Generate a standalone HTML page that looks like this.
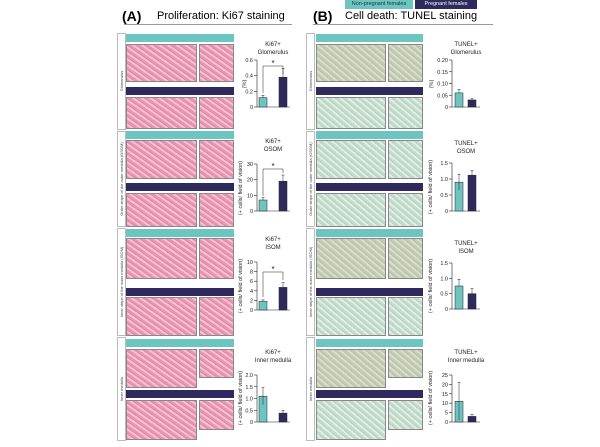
<!DOCTYPE html>
<html><head><meta charset="utf-8"><style>
body{margin:0;background:#fff;width:600px;height:447px;overflow:hidden;position:relative;font-family:"Liberation Sans",sans-serif}
.a{position:absolute}
.t{background:#6cc5c0}.n{background:#2e2a5e}
.p{background:repeating-linear-gradient(35deg,#e994b2 0 2px,#f4c3d2 2px 4px,#e586a7 4px 5px);border:1px solid #888;box-sizing:border-box}
.g{background:repeating-linear-gradient(40deg,#b6cfb8 0 2px,#dcdccb 2px 4px,#c8bba0 4px 5px);border:1px solid #888;box-sizing:border-box}
.g2{background:repeating-linear-gradient(40deg,#bfdccd 0 2px,#e8ebe2 2px 4px,#acd5c4 4px 5px);border:1px solid #888;box-sizing:border-box}
.l{border:1px solid #bbb;box-sizing:border-box;background:#fff}
</style></head><body>
<div class="a t" style="left:345px;top:0px;width:68px;height:9px;font-size:5.5px;color:#234;text-align:center;line-height:9px">Non-pregnant females</div>
<div class="a n" style="left:415px;top:0px;width:62px;height:9px;font-size:5.5px;color:#fff;text-align:center;line-height:9px">Pregnant females</div>
<div class="a" style="left:122px;top:8px;font-size:14px;font-weight:bold">(A)</div>
<div class="a" style="left:157px;top:10px;font-size:11px">Proliferation: Ki67 staining</div>
<div class="a" style="left:124px;top:24px;width:168px;height:1px;background:#999"></div>
<div class="a" style="left:313px;top:8px;font-size:14px;font-weight:bold">(B)</div>
<div class="a" style="left:345px;top:10px;font-size:11px">Cell death: TUNEL staining</div>
<div class="a" style="left:313px;top:24px;width:180px;height:1px;background:#999"></div>

<div class="a l" style="left:117px;top:33px;width:9px;height:97px"></div>
<div class="a t" style="left:126px;top:34px;width:108px;height:8px"></div>
<div class="a p" style="left:126px;top:44px;width:71px;height:38px"></div><div class="a p" style="left:199px;top:44px;width:35px;height:38px"></div>
<div class="a n" style="left:126px;top:87px;width:108px;height:8px"></div>
<div class="a p" style="left:126px;top:97px;width:71px;height:32px"></div><div class="a p" style="left:199px;top:97px;width:35px;height:32px"></div>

<div class="a l" style="left:117px;top:131px;width:9px;height:96px"></div>
<div class="a t" style="left:126px;top:131px;width:108px;height:8px"></div>
<div class="a p" style="left:126px;top:140px;width:71px;height:39px"></div><div class="a p" style="left:199px;top:140px;width:35px;height:39px"></div>
<div class="a n" style="left:126px;top:183px;width:108px;height:8px"></div>
<div class="a p" style="left:126px;top:193px;width:71px;height:34px"></div><div class="a p" style="left:199px;top:193px;width:35px;height:34px"></div>

<div class="a l" style="left:117px;top:228px;width:9px;height:108px"></div>
<div class="a t" style="left:126px;top:229px;width:108px;height:8px"></div>
<div class="a p" style="left:126px;top:238px;width:71px;height:41px"></div><div class="a p" style="left:199px;top:238px;width:35px;height:41px"></div>
<div class="a n" style="left:126px;top:288px;width:108px;height:8px"></div>
<div class="a p" style="left:126px;top:297px;width:71px;height:39px"></div><div class="a p" style="left:199px;top:297px;width:35px;height:39px"></div>

<div class="a l" style="left:117px;top:337px;width:9px;height:104px"></div>
<div class="a t" style="left:126px;top:339px;width:108px;height:8px"></div>
<div class="a p" style="left:126px;top:349px;width:71px;height:39px"></div><div class="a p" style="left:199px;top:349px;width:35px;height:29px"></div>
<div class="a n" style="left:126px;top:390px;width:108px;height:8px"></div>
<div class="a p" style="left:126px;top:400px;width:71px;height:40px"></div><div class="a p" style="left:199px;top:400px;width:35px;height:30px"></div>

<div class="a l" style="left:306px;top:33px;width:9px;height:97px"></div>
<div class="a t" style="left:316px;top:34px;width:107px;height:8px"></div>
<div class="a g" style="left:316px;top:44px;width:70px;height:38px"></div><div class="a g" style="left:388px;top:44px;width:35px;height:38px"></div>
<div class="a n" style="left:316px;top:87px;width:107px;height:8px"></div>
<div class="a g2" style="left:316px;top:97px;width:70px;height:32px"></div><div class="a g2" style="left:388px;top:97px;width:35px;height:32px"></div>

<div class="a l" style="left:306px;top:131px;width:9px;height:96px"></div>
<div class="a t" style="left:316px;top:131px;width:107px;height:8px"></div>
<div class="a g2" style="left:316px;top:140px;width:70px;height:39px"></div><div class="a g2" style="left:388px;top:140px;width:35px;height:39px"></div>
<div class="a n" style="left:316px;top:183px;width:107px;height:8px"></div>
<div class="a g2" style="left:316px;top:193px;width:70px;height:34px"></div><div class="a g2" style="left:388px;top:193px;width:35px;height:34px"></div>

<div class="a l" style="left:306px;top:228px;width:9px;height:108px"></div>
<div class="a t" style="left:316px;top:229px;width:107px;height:8px"></div>
<div class="a g" style="left:316px;top:238px;width:70px;height:41px"></div><div class="a g" style="left:388px;top:238px;width:35px;height:41px"></div>
<div class="a n" style="left:316px;top:288px;width:107px;height:8px"></div>
<div class="a g2" style="left:316px;top:297px;width:70px;height:39px"></div><div class="a g2" style="left:388px;top:297px;width:35px;height:39px"></div>

<div class="a l" style="left:306px;top:337px;width:9px;height:104px"></div>
<div class="a t" style="left:316px;top:339px;width:107px;height:8px"></div>
<div class="a g" style="left:316px;top:349px;width:70px;height:39px"></div><div class="a g" style="left:388px;top:349px;width:35px;height:29px"></div>
<div class="a n" style="left:316px;top:390px;width:107px;height:8px"></div>
<div class="a g2" style="left:316px;top:400px;width:70px;height:40px"></div><div class="a g2" style="left:388px;top:400px;width:35px;height:30px"></div>

<svg class="a" style="left:0;top:0" width="600" height="447" font-family="Liberation Sans, sans-serif" font-size="5.5" fill="#222">
<g fill="#444" font-size="4">
<text transform="translate(123,81) rotate(-90)" text-anchor="middle">Glomerulus</text>
<text transform="translate(123,179) rotate(-90)" text-anchor="middle">Outer stripe of the outer medulla (OSOM)</text>
<text transform="translate(123,282) rotate(-90)" text-anchor="middle">Inner stripe of the outer medulla (ISOM)</text>
<text transform="translate(123,389) rotate(-90)" text-anchor="middle">Inner medulla</text>
<text transform="translate(312,81) rotate(-90)" text-anchor="middle">Glomerulus</text>
<text transform="translate(312,179) rotate(-90)" text-anchor="middle">Outer stripe of the outer medulla (OSOM)</text>
<text transform="translate(312,282) rotate(-90)" text-anchor="middle">Inner stripe of the outer medulla (ISOM)</text>
<text transform="translate(312,389) rotate(-90)" text-anchor="middle">Inner medulla</text>
</g>
<g stroke="#222" stroke-width="0.6">
<line x1="257" y1="60" x2="257" y2="107"/><line x1="257" y1="107" x2="290" y2="107"/>
<line x1="254" y1="60" x2="257" y2="60"/><line x1="254" y1="75.7" x2="257" y2="75.7"/><line x1="254" y1="91.3" x2="257" y2="91.3"/><line x1="254" y1="107" x2="257" y2="107"/>
<line x1="257" y1="164" x2="257" y2="211"/><line x1="257" y1="211" x2="290" y2="211"/>
<line x1="254" y1="164" x2="257" y2="164"/><line x1="254" y1="179.7" x2="257" y2="179.7"/><line x1="254" y1="195.3" x2="257" y2="195.3"/><line x1="254" y1="211" x2="257" y2="211"/>
<line x1="257" y1="262" x2="257" y2="310"/><line x1="257" y1="310" x2="290" y2="310"/>
<line x1="254" y1="262" x2="257" y2="262"/><line x1="254" y1="271.6" x2="257" y2="271.6"/><line x1="254" y1="281.2" x2="257" y2="281.2"/><line x1="254" y1="290.8" x2="257" y2="290.8"/><line x1="254" y1="300.4" x2="257" y2="300.4"/><line x1="254" y1="310" x2="257" y2="310"/>
<line x1="257" y1="375" x2="257" y2="422"/><line x1="257" y1="422" x2="290" y2="422"/>
<line x1="254" y1="375" x2="257" y2="375"/><line x1="254" y1="386.75" x2="257" y2="386.75"/><line x1="254" y1="398.5" x2="257" y2="398.5"/><line x1="254" y1="410.25" x2="257" y2="410.25"/><line x1="254" y1="422" x2="257" y2="422"/>
<line x1="452" y1="60" x2="452" y2="107"/><line x1="452" y1="107" x2="480" y2="107"/>
<line x1="449" y1="60" x2="452" y2="60"/><line x1="449" y1="71.75" x2="452" y2="71.75"/><line x1="449" y1="83.5" x2="452" y2="83.5"/><line x1="449" y1="95.25" x2="452" y2="95.25"/><line x1="449" y1="107" x2="452" y2="107"/>
<line x1="452" y1="163" x2="452" y2="211"/><line x1="452" y1="211" x2="480" y2="211"/>
<line x1="449" y1="163" x2="452" y2="163"/><line x1="449" y1="179" x2="452" y2="179"/><line x1="449" y1="195" x2="452" y2="195"/><line x1="449" y1="211" x2="452" y2="211"/>
<line x1="452" y1="263" x2="452" y2="309"/><line x1="452" y1="309" x2="480" y2="309"/>
<line x1="449" y1="263" x2="452" y2="263"/><line x1="449" y1="278.3" x2="452" y2="278.3"/><line x1="449" y1="293.7" x2="452" y2="293.7"/><line x1="449" y1="309" x2="452" y2="309"/>
<line x1="452" y1="375" x2="452" y2="422"/><line x1="452" y1="422" x2="480" y2="422"/>
<line x1="449" y1="375" x2="452" y2="375"/><line x1="449" y1="384.4" x2="452" y2="384.4"/><line x1="449" y1="393.8" x2="452" y2="393.8"/><line x1="449" y1="403.2" x2="452" y2="403.2"/><line x1="449" y1="412.6" x2="452" y2="412.6"/><line x1="449" y1="422" x2="452" y2="422"/>
</g>
<g stroke="#222" stroke-width="0.5">
<rect x="259" y="97.6" width="8" height="9.4" fill="#6cc5c0"/><rect x="279" y="77.2" width="8" height="29.8" fill="#2e2a5e"/>
<rect x="259" y="200" width="8" height="11" fill="#6cc5c0"/><rect x="279" y="181.2" width="8" height="29.8" fill="#2e2a5e"/>
<rect x="259" y="301.4" width="8" height="8.6" fill="#6cc5c0"/><rect x="279" y="287.4" width="8" height="22.6" fill="#2e2a5e"/>
<rect x="259" y="396.2" width="8" height="25.8" fill="#6cc5c0"/><rect x="279" y="413.1" width="8" height="8.9" fill="#2e2a5e"/>
<rect x="455" y="92.9" width="8" height="14.1" fill="#6cc5c0"/><rect x="468" y="99.95" width="8" height="7.05" fill="#2e2a5e"/>
<rect x="455" y="182.2" width="8" height="28.8" fill="#6cc5c0"/><rect x="468" y="175.2" width="8" height="35.8" fill="#2e2a5e"/>
<rect x="455" y="286" width="8" height="23" fill="#6cc5c0"/><rect x="468" y="293.7" width="8" height="15.3" fill="#2e2a5e"/>
<rect x="455" y="401.3" width="8" height="20.7" fill="#6cc5c0"/><rect x="468" y="416.4" width="8" height="5.6" fill="#2e2a5e"/>
<path d="M263 97.6V95.25M261.5 95.25h3M283 77.2V68.6M281.5 68.6h3M263 200V197.7M261.5 197.7h3M283 181.2V175M281.5 175h3M263 301.4V299.9M261.5 299.9h3M283 287.4V282.6M281.5 282.6h3M263 404.8V387.5M261.5 387.5h3M283 413.1V410.25M281.5 410.25h3M459 92.9V89.4M457.5 89.4h3M472 99.95V98.8M470.5 98.8h3M459 190.2V174.2M457.5 174.2h3M472 175.2V170.4M470.5 170.4h3M459 286V279.3M457.5 279.3h3M472 293.7V288.5M470.5 288.5h3M459 420V382.5M457.5 382.5h3M472 416.4V414.5M470.5 414.5h3" fill="none"/>
<path d="M263 93V66H283V74M263 196V169H283V173M263 297V272H283V280" fill="none"/>
</g>
<g font-size="8" text-anchor="middle"><text x="273" y="66">*</text><text x="273" y="169">*</text><text x="273" y="272">*</text></g>
<g text-anchor="end" font-size="5.5">
<text x="253" y="62">0.6</text><text x="253" y="77.7">0.4</text><text x="253" y="93.3">0.2</text><text x="253" y="109">0</text>
<text x="253" y="166">30</text><text x="253" y="181.7">20</text><text x="253" y="197.3">10</text><text x="253" y="213">0</text>
<text x="253" y="264">10</text><text x="253" y="273.6">8</text><text x="253" y="283.2">6</text><text x="253" y="292.8">4</text><text x="253" y="302.4">2</text><text x="253" y="312">0</text>
<text x="253" y="377">2.0</text><text x="253" y="388.75">1.5</text><text x="253" y="400.5">1.0</text><text x="253" y="412.25">0.5</text><text x="253" y="424">0</text>
<text x="448" y="62">0.20</text><text x="448" y="73.75">0.15</text><text x="448" y="85.5">0.10</text><text x="448" y="97.25">0.05</text><text x="448" y="109">0</text>
<text x="448" y="165">1.5</text><text x="448" y="181">1.0</text><text x="448" y="197">0.5</text><text x="448" y="213">0</text>
<text x="448" y="265">1.5</text><text x="448" y="280.3">1.0</text><text x="448" y="295.7">0.5</text><text x="448" y="311">0</text>
<text x="448" y="377">25</text><text x="448" y="386.4">20</text><text x="448" y="395.8">15</text><text x="448" y="405.2">10</text><text x="448" y="414.6">5</text><text x="448" y="424">0</text>
</g>
<g text-anchor="middle" font-size="5.5">
<text transform="translate(246,84) rotate(-90)">(%)</text>
<text transform="translate(433,84) rotate(-90)">(%)</text>
<text transform="translate(242,188) rotate(-90)">(+ cells/ field of vision)</text>
<text transform="translate(242,286) rotate(-90)">(+ cells/ field of vision)</text>
<text transform="translate(242,398) rotate(-90)">(+ cells/ field of vision)</text>
<text transform="translate(432,187) rotate(-90)">(+ cells/ field of vision)</text>
<text transform="translate(432,286) rotate(-90)">(+ cells/ field of vision)</text>
<text transform="translate(432,398) rotate(-90)">(+ cells/ field of vision)</text>
</g>
<g text-anchor="middle" font-size="6">
<text x="273" y="46">Ki67+</text><text x="273" y="54">Glomerulus</text>
<text x="273" y="143">Ki67+</text><text x="273" y="151">OSOM</text>
<text x="273" y="241">Ki67+</text><text x="273" y="249">ISOM</text>
<text x="273" y="354">Ki67+</text><text x="273" y="362">Inner medulla</text>
<text x="466" y="46">TUNEL+</text><text x="466" y="54">Glomerulus</text>
<text x="466" y="145">TUNEL+</text><text x="466" y="153">OSOM</text>
<text x="466" y="245">TUNEL+</text><text x="466" y="253">ISOM</text>
<text x="466" y="354">TUNEL+</text><text x="466" y="362">Inner medulla</text>
</g>
</svg>
</body></html>
